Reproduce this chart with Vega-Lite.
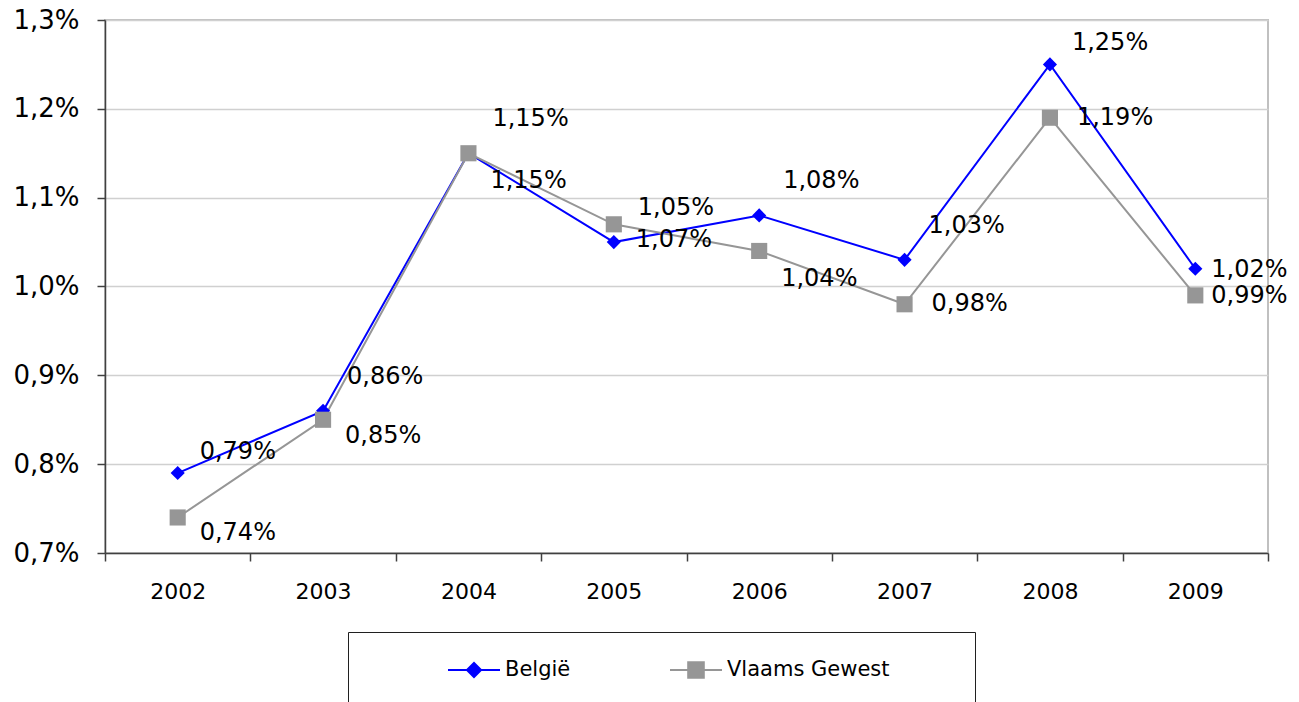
{
  "$schema": "https://vega.github.io/schema/vega-lite/v6.json",
  "width": 1163,
  "height": 533,
  "autosize": "none",
  "padding": {"left": 105, "top": 20, "right": 31, "bottom": 149},
  "background": "white",
  "config": {
    "locale": {"number": {"decimal": ",", "thousands": ".", "grouping": [3], "currency": ["", " €"]}},
    "font": "DejaVu Sans",
    "view": {"stroke": "#c0c0c0", "strokeWidth": 2},
    "axis": {"labelFont": "DejaVu Sans", "labelColor": "#000000", "domainColor": "#404040", "tickColor": "#404040", "domainWidth": 1.5, "tickWidth": 1.5, "gridColor": "#d0d0d0", "gridWidth": 1.5, "title": null}
  },
  "data": {
    "values": [
      {"year": "2002", "series": "België", "value": 0.0079},
      {"year": "2003", "series": "België", "value": 0.0086},
      {"year": "2004", "series": "België", "value": 0.0115},
      {"year": "2005", "series": "België", "value": 0.0105},
      {"year": "2006", "series": "België", "value": 0.0108},
      {"year": "2007", "series": "België", "value": 0.0103},
      {"year": "2008", "series": "België", "value": 0.0125},
      {"year": "2009", "series": "België", "value": 0.0102},
      {"year": "2002", "series": "Vlaams Gewest", "value": 0.0074},
      {"year": "2003", "series": "Vlaams Gewest", "value": 0.0085},
      {"year": "2004", "series": "Vlaams Gewest", "value": 0.0115},
      {"year": "2005", "series": "Vlaams Gewest", "value": 0.0107},
      {"year": "2006", "series": "Vlaams Gewest", "value": 0.0104},
      {"year": "2007", "series": "Vlaams Gewest", "value": 0.0098},
      {"year": "2008", "series": "Vlaams Gewest", "value": 0.0119},
      {"year": "2009", "series": "Vlaams Gewest", "value": 0.0099}
    ]
  },
  "encoding": {
    "x": {
      "field": "year", "type": "ordinal",
      "scale": {"type": "band", "paddingInner": 0, "paddingOuter": 0},
      "axis": {"labelAngle": 0, "labelFontSize": 22, "tickBand": "extent", "tickSize": 8, "labelPadding": 20, "grid": false}
    },
    "y": {
      "field": "value", "type": "quantitative",
      "scale": {"domain": [0.007, 0.013], "nice": false, "zero": false},
      "axis": {"values": [0.007, 0.008, 0.009, 0.010, 0.011, 0.012, 0.013], "format": ".1%", "labelFontSize": 26, "tickSize": 8, "labelPadding": 18, "grid": true}
    }
  },
  "layer": [
    {
      "mark": {"type": "line", "strokeWidth": 2},
      "encoding": {
        "color": {
          "field": "series", "type": "nominal",
          "scale": {"domain": ["België", "Vlaams Gewest"], "range": ["#0000ff", "#969696"]},
          "legend": {
            "orient": "none", "legendX": 243, "legendY": 612, "direction": "horizontal",
            "title": " ", "titleOrient": "left", "titlePadding": 87, "titleFontSize": 10,
            "padding": 12, "strokeColor": "#202020", "fillColor": "#ffffff",
            "symbolSize": 2704, "symbolStrokeWidth": 2, "clipHeight": 52,
            "labelFont": "DejaVu Sans", "labelFontSize": 21, "labelColor": "#000000", "labelOffset": 4, "columnPadding": 98, "labelLimit": 500,
            "labelExpr": "datum.label == 'Vlaams Gewest' ? datum.label + '\u00a0\u00a0\u00a0\u00a0\u00a0\u00a0\u00a0\u00a0\u00a0\u00a0\u00a0\u2060' : datum.label",
            "encode": {
              "symbols": {
                "update": {
                  "shape": {"signal": "datum.value === 'België' ? 'M-1,0L-0.27,0L0,-0.27L0.27,0L1,0L0.27,0L0,0.27L-0.27,0Z' : 'M-1,0L-0.3,0L-0.3,-0.3L0.3,-0.3L0.3,0L1,0L0.3,0L0.3,0.3L-0.3,0.3L-0.3,0Z'"},
                  "fill": {"signal": "datum.value === 'België' ? '#0000ff' : '#969696'"},
                  "stroke": {"signal": "datum.value === 'België' ? '#0000ff' : '#969696'"},
                  "strokeWidth": {"value": 2},
                  "size": {"value": 2704},
                  "opacity": {"value": 1}
                }
              }
            }
          }
        }
      }
    },
    {
      "transform": [{"filter": "datum.series == 'België'"}],
      "mark": {"type": "point", "filled": true, "opacity": 1, "shape": "diamond", "size": 200, "color": "#0000ff"}
    },
    {
      "transform": [{"filter": "datum.series == 'Vlaams Gewest'"}],
      "mark": {"type": "point", "filled": true, "opacity": 1, "shape": "square", "size": 260, "color": "#969696"}
    },
    {
      "transform": [{"filter": "datum.series == 'België' && (datum.year == '2002' || datum.year == '2008')"}],
      "mark": {"type": "text", "align": "left", "baseline": "middle", "dx": 22, "dy": -21, "fontSize": 24, "font": "DejaVu Sans", "color": "#000000"},
      "encoding": {"text": {"field": "value", "type": "quantitative", "format": ".2%"}}
    },
    {
      "transform": [{"filter": "datum.series == 'België' && datum.year >= '2003' && datum.year <= '2007'"}],
      "mark": {"type": "text", "align": "left", "baseline": "middle", "dx": 24, "dy": -34, "fontSize": 24, "font": "DejaVu Sans", "color": "#000000"},
      "encoding": {"text": {"field": "value", "type": "quantitative", "format": ".2%"}}
    },
    {
      "transform": [{"filter": "datum.year == '2009'"}],
      "mark": {"type": "text", "align": "left", "baseline": "middle", "dx": 16, "dy": 1, "fontSize": 24, "font": "DejaVu Sans", "color": "#000000"},
      "encoding": {"text": {"field": "value", "type": "quantitative", "format": ".2%"}}
    },
    {
      "transform": [{"filter": "datum.series == 'Vlaams Gewest' && (datum.year == '2002' || datum.year == '2003' || datum.year == '2005')"}],
      "mark": {"type": "text", "align": "left", "baseline": "middle", "dx": 22, "dy": 16, "fontSize": 24, "font": "DejaVu Sans", "color": "#000000"},
      "encoding": {"text": {"field": "value", "type": "quantitative", "format": ".2%"}}
    },
    {
      "transform": [{"filter": "datum.series == 'Vlaams Gewest' && (datum.year == '2004' || datum.year == '2006')"}],
      "mark": {"type": "text", "align": "left", "baseline": "middle", "dx": 22, "dy": 28, "fontSize": 24, "font": "DejaVu Sans", "color": "#000000"},
      "encoding": {"text": {"field": "value", "type": "quantitative", "format": ".2%"}}
    },
    {
      "transform": [{"filter": "datum.series == 'Vlaams Gewest' && (datum.year == '2007' || datum.year == '2008')"}],
      "mark": {"type": "text", "align": "left", "baseline": "middle", "dx": 27, "dy": 0, "fontSize": 24, "font": "DejaVu Sans", "color": "#000000"},
      "encoding": {"text": {"field": "value", "type": "quantitative", "format": ".2%"}}
    }
  ]
}
